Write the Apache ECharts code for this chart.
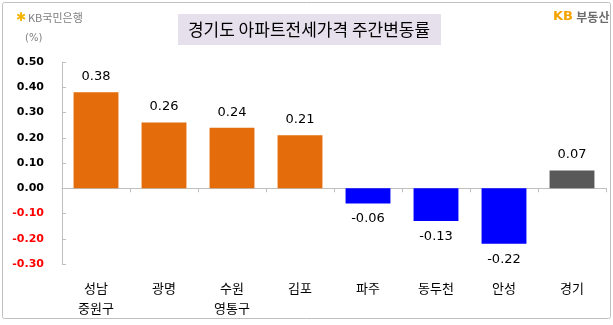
<!DOCTYPE html>
<html>
<head>
<meta charset="utf-8">
<script src="https://cdn.jsdelivr.net/npm/echarts@6/dist/echarts.min.js"></script>
<style>
  html, body { margin: 0; padding: 0; background: #fff; }
  #chart { width: 613px; height: 325px; }
</style>
</head>
<body>
<div id="chart"></div>
<script>
// 경기도 아파트 전세가격 주간 변동률 (%)
const categories = ['성남\n중원구', '광명', '수원\n영통구', '김포', '파주', '동두천', '안성', '경기'];
const values = [0.38, 0.26, 0.24, 0.21, -0.06, -0.13, -0.22, 0.07];
const yMin = -0.3;
const yMax = 0.5;
const yStep = 0.1;

const ORANGE = '#e46c0a';
const BLUE = '#0000ff';
const GRAY = '#595959';
const AXIS = '#bfbfbf';
const KR = '"Noto Sans CJK KR", "Noto Sans", sans-serif';

const chart = echarts.init(document.getElementById('chart'));

const barData = values.map((v, i) => ({
  value: v,
  itemStyle: { color: i === values.length - 1 ? GRAY : (v < 0 ? BLUE : ORANGE) },
  label: { position: v < 0 ? 'bottom' : 'top' }
}));

const option = {
  animation: false,
  grid: { left: 62, right: 7, top: 62, bottom: 61 },
  xAxis: [
    {
      type: 'category',
      data: categories,
      axisLine: { onZero: true, lineStyle: { color: AXIS } },
      axisTick: { show: true, inside: false, length: 4, lineStyle: { color: AXIS } },
      axisLabel: { show: false }
    },
    {
      // second axis only carries the labels at the bottom of the plot
      type: 'category',
      data: categories,
      position: 'bottom',
      axisLine: { show: false },
      axisTick: { show: false },
      axisLabel: {
        margin: 14,
        color: '#000',
        fontFamily: KR,
        fontSize: 13,
        lineHeight: 20
      }
    }
  ],
  yAxis: {
    type: 'value',
    min: yMin,
    max: yMax,
    interval: yStep,
    axisLine: { show: true, lineStyle: { color: AXIS } },
    axisTick: { show: true, inside: true, length: 4, lineStyle: { color: AXIS } },
    splitLine: { show: false },
    axisLabel: {
      margin: 18,
      fontFamily: 'DejaVu Sans',
      fontWeight: 'bold',
      fontSize: 11,
      formatter: v => v.toFixed(2),
      color: v => (v < 0 ? '#ff0000' : '#000')
    }
  },
  series: [
    {
      type: 'bar',
      xAxisIndex: 0,
      data: barData,
      barWidth: '66%',
      label: {
        show: true,
        distance: 9,
        color: '#000',
        fontFamily: 'DejaVu Sans',
        fontSize: 13,
        formatter: p => p.value.toFixed(2)
      }
    }
  ],
  graphic: [
    {
      type: 'rect',
      shape: { x: 2.5, y: 2.5, width: 608, height: 316, r: 2 },
      style: { fill: 'none', stroke: '#c0c0c0', lineWidth: 1 }
    },
    {
      type: 'rect',
      shape: { x: 178, y: 14, width: 263, height: 31 },
      style: { fill: '#e5e0ec' }
    },
    {
      type: 'text',
      x: 309, y: 30,
      style: {
        text: '경기도 아파트전세가격 주간변동률',
        fill: '#000', font: '17px ' + KR,
        align: 'center', verticalAlign: 'middle'
      }
    },
    {
      type: 'text',
      x: 16, y: 18,
      style: { text: '✱', fill: '#f5b400', font: 'bold 12px DejaVu Sans', verticalAlign: 'middle' }
    },
    {
      type: 'text',
      x: 28, y: 18,
      style: { text: 'KB국민은행', fill: '#7f7f7f', font: '11px ' + KR, verticalAlign: 'middle' }
    },
    {
      type: 'text',
      x: 25, y: 38,
      style: { text: '(%)', fill: '#7f7f7f', font: '10px DejaVu Sans', verticalAlign: 'middle' }
    },
    {
      type: 'text',
      x: 553, y: 17,
      style: {
        text: '{kb|KB} {re|부동산}',
        verticalAlign: 'middle',
        rich: {
          kb: { fill: '#f5a300', font: 'bold 13px DejaVu Sans' },
          re: { fill: '#6d6d6d', font: 'bold 12px ' + KR }
        }
      }
    }
  ]
};

chart.setOption(option);
</script>
</body>
</html>
